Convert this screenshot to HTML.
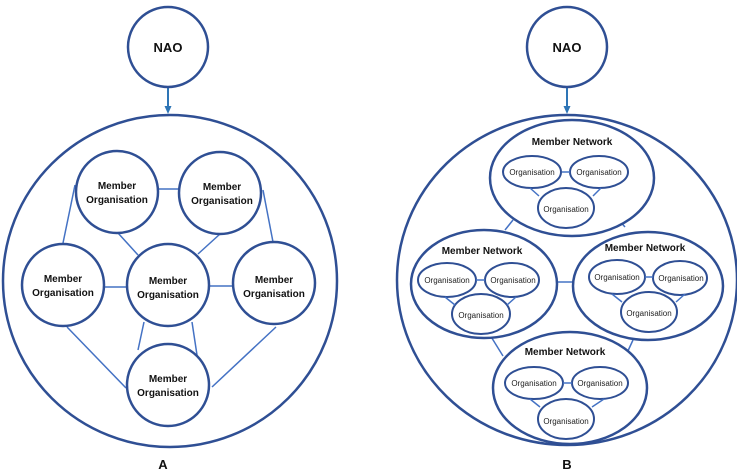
<!DOCTYPE html>
<html><head><style>html,body{margin:0;padding:0;background:#fff}svg{display:block}</style></head>
<body>
<svg width="737" height="473" viewBox="0 0 737 473" xmlns="http://www.w3.org/2000/svg" font-family="Liberation Sans, sans-serif">
<defs><marker id="ar" markerUnits="userSpaceOnUse" markerWidth="8" markerHeight="8" refX="4" refY="4" orient="auto"><path d="M0,0.5 L8,4 L0,7.5 z" fill="#2e75b6"/></marker></defs>
<g fill="none" stroke="#4472c4" stroke-width="1.5">
<line x1="158" y1="189" x2="179" y2="189"/>
<line x1="75" y1="185" x2="63" y2="243"/>
<line x1="263" y1="190" x2="273" y2="242"/>
<line x1="118" y1="233" x2="138" y2="255"/>
<line x1="220" y1="234" x2="198" y2="254"/>
<line x1="105" y1="287" x2="127" y2="287"/>
<line x1="210" y1="286" x2="232" y2="286"/>
<line x1="67" y1="327" x2="126" y2="388"/>
<line x1="276" y1="327" x2="212" y2="387"/>
<line x1="144" y1="322" x2="138" y2="350"/>
<line x1="192" y1="322" x2="197" y2="355"/>
<line x1="513" y1="220" x2="505" y2="230"/>
<line x1="617" y1="218" x2="625" y2="227"/>
<line x1="557" y1="282" x2="573" y2="282"/>
<line x1="490" y1="335" x2="503" y2="356"/>
<line x1="633" y1="340" x2="627" y2="353"/>
</g>
<g stroke="#2e75b6" stroke-width="2"><line x1="168" y1="88" x2="168" y2="110" marker-end="url(#ar)"/><line x1="567" y1="88" x2="567" y2="110" marker-end="url(#ar)"/></g>
<g fill="#fff" stroke="#2f4f94" stroke-width="2.5">
<circle cx="168" cy="47" r="40"/><circle cx="567" cy="47" r="40"/>
<ellipse cx="170" cy="281" rx="167" ry="166" fill="none"/>
<ellipse cx="567" cy="280" rx="170" ry="165" fill="none"/>
<circle cx="117" cy="192" r="41"/><circle cx="220" cy="193" r="41"/><circle cx="63" cy="285" r="41"/>
<circle cx="168" cy="285" r="41"/><circle cx="274" cy="283" r="41"/><circle cx="168" cy="385" r="41"/>
<ellipse cx="572" cy="178" rx="82" ry="58"/><ellipse cx="484" cy="284" rx="73" ry="54"/>
<ellipse cx="648" cy="286" rx="75" ry="54"/><ellipse cx="570" cy="388" rx="77" ry="56"/>
</g>
<g fill="#fff" stroke="#2f4f94" stroke-width="2">
<ellipse cx="532" cy="172" rx="29" ry="16"/><ellipse cx="599" cy="172" rx="29" ry="16"/><ellipse cx="566" cy="208" rx="28" ry="20"/>
<ellipse cx="447" cy="280" rx="29" ry="17"/><ellipse cx="512" cy="280" rx="27" ry="17"/><ellipse cx="481" cy="314" rx="29" ry="20"/>
<ellipse cx="617" cy="277" rx="28" ry="17"/><ellipse cx="680" cy="278" rx="27" ry="17"/><ellipse cx="649" cy="312" rx="28" ry="20"/>
<ellipse cx="534" cy="383" rx="29" ry="16"/><ellipse cx="600" cy="383" rx="28" ry="16"/><ellipse cx="566" cy="419" rx="28" ry="20"/>
</g>
<g fill="none" stroke="#4472c4" stroke-width="1.5">
<line x1="562" y1="172" x2="570" y2="172"/><line x1="530" y1="188" x2="539" y2="196"/><line x1="601" y1="188" x2="593" y2="196"/>
<line x1="476" y1="280" x2="485" y2="280"/><line x1="445" y1="297" x2="455" y2="305"/><line x1="516" y1="297" x2="507" y2="305"/>
<line x1="645" y1="277" x2="653" y2="277"/><line x1="612" y1="294" x2="622" y2="302"/><line x1="685" y1="294" x2="676" y2="302"/>
<line x1="563" y1="383" x2="572" y2="383"/><line x1="530" y1="399" x2="540" y2="407"/><line x1="604" y1="399" x2="592" y2="407"/>
</g>
<g font-weight="bold" font-size="13" text-anchor="middle" fill="#111">
<text x="168" y="52">NAO</text><text x="567" y="52">NAO</text>
<text x="163" y="469">A</text><text x="567" y="469">B</text>
</g>
<g font-weight="bold" font-size="10" text-anchor="middle" fill="#111">
<text x="117" y="189">Member</text><text x="117" y="203">Organisation</text>
<text x="222" y="190">Member</text><text x="222" y="204">Organisation</text>
<text x="63" y="282">Member</text><text x="63" y="296">Organisation</text>
<text x="168" y="284">Member</text><text x="168" y="298">Organisation</text>
<text x="274" y="283">Member</text><text x="274" y="297">Organisation</text>
<text x="168" y="382">Member</text><text x="168" y="396">Organisation</text>
<text x="572" y="145">Member Network</text><text x="482" y="254">Member Network</text>
<text x="645" y="251">Member Network</text><text x="565" y="355">Member Network</text>
</g>
<g font-size="8" text-anchor="middle" fill="#222">
<text x="532" y="175">Organisation</text><text x="599" y="175">Organisation</text><text x="566" y="212">Organisation</text>
<text x="447" y="283">Organisation</text><text x="513" y="283">Organisation</text><text x="481" y="318">Organisation</text>
<text x="617" y="280">Organisation</text><text x="681" y="281">Organisation</text><text x="649" y="316">Organisation</text>
<text x="534" y="386">Organisation</text><text x="600" y="386">Organisation</text><text x="566" y="424">Organisation</text>
</g>
</svg>
</body></html>
